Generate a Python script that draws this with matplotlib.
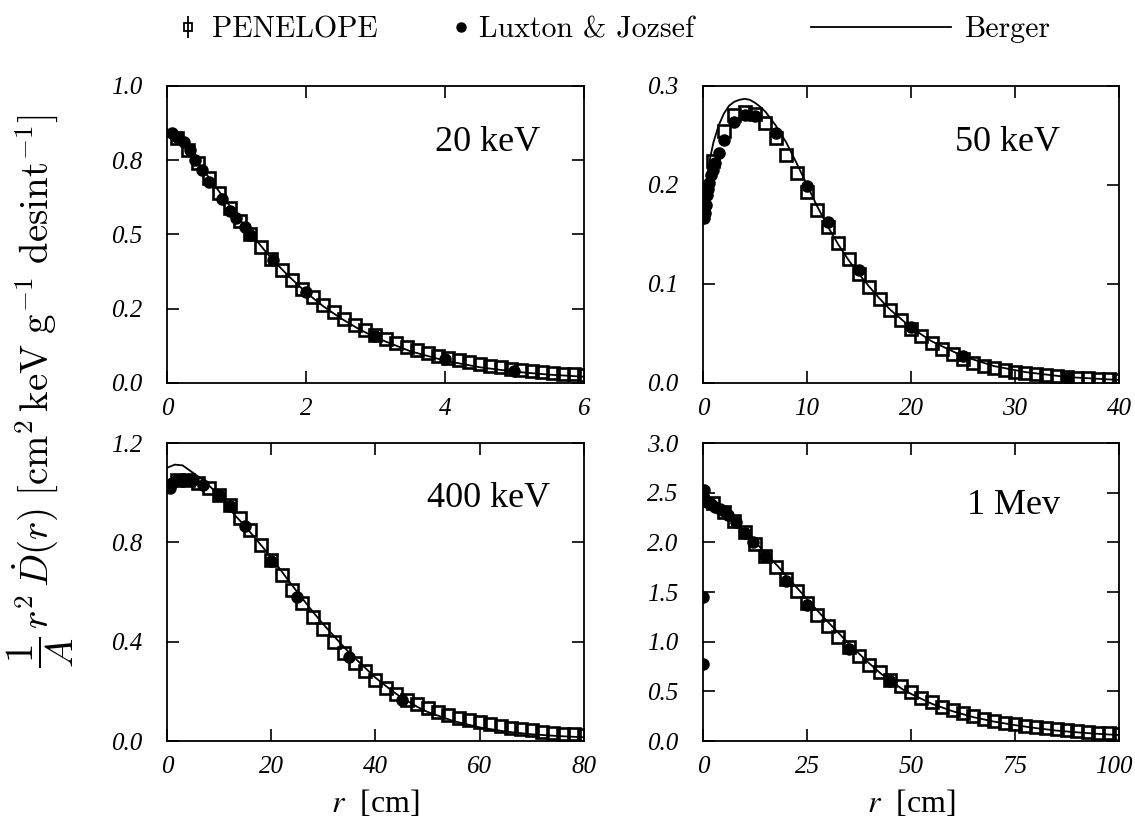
import numpy as np
import matplotlib
matplotlib.use('Agg')
import matplotlib.pyplot as plt
from matplotlib.lines import Line2D
from matplotlib.transforms import ScaledTranslation

plt.rcParams['font.family'] = ['Liberation Serif', 'DejaVu Serif']
plt.rcParams['mathtext.fontset'] = 'cm'

# energies shown in the four panels
energies = ['20 keV', '50 keV', '400 keV', '1 Mev']

# PENELOPE histograms: 40 bins per panel, value at each bin edge (step in cm)
pen_step = [0.15, 1.0, 2.0, 2.5]
pen_20 = [0.825, 0.785, 0.74, 0.69, 0.64, 0.59, 0.545, 0.50, 0.458, 0.418,
          0.38, 0.347, 0.316, 0.288, 0.262, 0.238, 0.216, 0.196, 0.178, 0.162,
          0.147, 0.134, 0.122, 0.111, 0.101, 0.092, 0.084, 0.077, 0.070, 0.064,
          0.058, 0.053, 0.048, 0.044, 0.040, 0.037, 0.034, 0.031, 0.029, 0.027]
pen_50 = [0.224, 0.255, 0.271, 0.274, 0.272, 0.263, 0.247, 0.230, 0.212, 0.193,
          0.175, 0.158, 0.141, 0.125, 0.110, 0.097, 0.085, 0.074, 0.064, 0.055,
          0.047, 0.040, 0.034, 0.029, 0.024, 0.020, 0.017, 0.015, 0.013, 0.0115,
          0.010, 0.009, 0.008, 0.007, 0.006, 0.0055, 0.005, 0.0045, 0.004, 0.0035]
pen_400 = [1.05, 1.05, 1.04, 1.02, 0.99, 0.95, 0.90, 0.85, 0.79, 0.73,
           0.67, 0.61, 0.555, 0.50, 0.45, 0.40, 0.355, 0.315, 0.28, 0.245,
           0.215, 0.19, 0.167, 0.148, 0.131, 0.116, 0.103, 0.092, 0.083, 0.075,
           0.067, 0.060, 0.054, 0.048, 0.043, 0.038, 0.034, 0.030, 0.027, 0.024]
pen_1000 = [2.40, 2.31, 2.21, 2.10, 1.98, 1.86, 1.75, 1.63, 1.51, 1.39,
            1.27, 1.16, 1.05, 0.95, 0.86, 0.77, 0.69, 0.615, 0.55, 0.49,
            0.435, 0.39, 0.345, 0.31, 0.28, 0.25, 0.225, 0.205, 0.185, 0.17,
            0.155, 0.14, 0.128, 0.117, 0.107, 0.098, 0.09, 0.083, 0.077, 0.071]

# Luxton & Jozsef
lux_r_20 = [0.07, 0.14, 0.24, 0.33, 0.40, 0.50, 0.61, 0.79, 0.91, 1.0, 1.12, 1.2,
            1.53, 2.0, 3.0, 4.0, 5.0]
lux_20 = [0.842, 0.829, 0.812, 0.785, 0.75, 0.717, 0.677, 0.621, 0.58, 0.554,
          0.526, 0.498, 0.414, 0.307, 0.158, 0.08, 0.039]
lux_r_50 = [0.1, 0.2, 0.3, 0.4, 0.5, 0.6, 0.8, 1.0, 1.2, 1.5, 2.0, 3.0, 4.0, 5.0,
            7.0, 10, 12, 15, 20, 25, 35]
lux_50 = [0.167, 0.172, 0.180, 0.190, 0.196, 0.202, 0.210, 0.215, 0.222, 0.232,
          0.245, 0.264, 0.271, 0.270, 0.252, 0.199, 0.163, 0.114, 0.057, 0.027,
          0.005]
lux_r_400 = [0.5, 1, 2, 3, 4, 5, 7, 10, 12, 15, 20, 25, 35, 45]
lux_400 = [1.02, 1.04, 1.05, 1.05, 1.05, 1.05, 1.03, 0.99, 0.945, 0.865, 0.725,
           0.58, 0.34, 0.165]
lux_r_1000 = [0.05, 0.05, 0.15, 0.3, 0.6, 1.0, 1.5, 2, 3, 4, 5, 6, 8, 10, 12, 15,
              20, 25, 35, 45]
lux_1000 = [0.78, 1.45, 2.53, 2.45, 2.42, 2.41, 2.40, 2.39, 2.36, 2.34, 2.32,
            2.28, 2.20, 2.09, 2.0, 1.86, 1.61, 1.37, 0.93, 0.60]

# Berger curves
ber_r_20 = [0, 0.25, 0.5, 0.75, 1.0, 1.25, 1.5, 1.75, 2.0, 2.25, 2.5, 2.75, 3.0,
            3.5, 4.0, 4.5, 5.0, 5.5, 6.0]
ber_20 = [0.855, 0.80, 0.725, 0.645, 0.565, 0.49, 0.42, 0.36, 0.305, 0.258,
          0.218, 0.183, 0.153, 0.107, 0.075, 0.053, 0.038, 0.028, 0.021]
ber_r_50 = [0.1, 0.35, 0.7, 1.0, 1.5, 2.0, 2.5, 3.0, 3.5, 4.0, 4.5, 5.0, 5.5, 6.0,
            7.0, 8.0, 9.0, 10, 11, 12, 13, 14, 15, 16, 17, 18, 20, 22, 25, 28,
            31, 35, 40]
ber_50 = [0.18, 0.205, 0.228, 0.243, 0.26, 0.272, 0.28, 0.284, 0.286, 0.287,
          0.286, 0.283, 0.279, 0.274, 0.26, 0.243, 0.222, 0.200, 0.178, 0.158,
          0.140, 0.124, 0.110, 0.097, 0.085, 0.074, 0.056, 0.042, 0.027, 0.017,
          0.011, 0.006, 0.003]
ber_r_400 = [0, 1.5, 3, 5, 7, 9, 11, 13, 15, 17, 20, 23, 25, 28, 30, 33, 35, 38,
             40, 43, 45, 48, 50, 55, 60, 65, 70, 75, 80]
ber_400 = [1.10, 1.113, 1.11, 1.08, 1.05, 1.01, 0.96, 0.91, 0.865, 0.815, 0.74,
           0.655, 0.60, 0.52, 0.47, 0.40, 0.355, 0.295, 0.255, 0.205, 0.175,
           0.138, 0.117, 0.080, 0.055, 0.038, 0.027, 0.020, 0.015]
ber_r_1000 = [0, 2, 4, 6, 8, 10, 12, 15, 18, 20, 22, 25, 28, 30, 33, 35, 38, 40,
              43, 45, 48, 50, 55, 60, 65, 70, 75, 80, 85, 90, 95, 100]
ber_1000 = [2.46, 2.40, 2.34, 2.27, 2.19, 2.11, 2.03, 1.89, 1.76, 1.66, 1.57,
            1.43, 1.29, 1.20, 1.07, 0.98, 0.86, 0.78, 0.67, 0.61, 0.52, 0.475,
            0.375, 0.30, 0.24, 0.195, 0.16, 0.13, 0.105, 0.087, 0.072, 0.06]

# axes ranges and ticks
x_max = [6, 40, 80, 100]
x_ticks = [[0, 2, 4, 6], [0, 10, 20, 30, 40], [0, 20, 40, 60, 80],
           [0, 25, 50, 75, 100]]
y_max = [1.0, 0.3, 1.2, 3.0]
y_ticks = [[0, 0.25, 0.5, 0.75, 1.0], [0, 0.1, 0.2, 0.3], [0, 0.4, 0.8, 1.2],
           [0, 0.5, 1.0, 1.5, 2.0, 2.5, 3.0]]
y_tick_labels = [['0.0', '0.2', '0.5', '0.8', '1.0'],
                 ['0.0', '0.1', '0.2', '0.3'],
                 ['0.0', '0.4', '0.8', '1.2'],
                 ['0.0', '0.5', '1.0', '1.5', '2.0', '2.5', '3.0']]

pen_all = [pen_20, pen_50, pen_400, pen_1000]
lux_all = [(lux_r_20, lux_20), (lux_r_50, lux_50), (lux_r_400, lux_400),
           (lux_r_1000, lux_1000)]
ber_all = [(ber_r_20, ber_20), (ber_r_50, ber_50), (ber_r_400, ber_400),
           (ber_r_1000, ber_1000)]

fig = plt.figure(figsize=(11.35, 8.25), dpi=100)
boxes = [[0.1471, 0.5358, 0.3674, 0.360], [0.6194, 0.5358, 0.3665, 0.360],
         [0.1471, 0.1018, 0.3674, 0.3612], [0.6194, 0.1018, 0.3665, 0.3612]]
label_pos = [(0.894, 0.808), (0.858, 0.808), (0.918, 0.815), (0.858, 0.79)]

for i, box in enumerate(boxes):
    ax = fig.add_axes(box)
    pv = np.array(pen_all[i])
    pr = pen_step[i] * np.arange(1, len(pv) + 1)
    ax.plot(pr, pv, ls='none', marker='s', ms=8.5, mfc='none', mec='black',
            mew=1.9, zorder=2)
    ax.plot(*lux_all[i], ls='none', marker='o', ms=8, color='black', zorder=3)
    ax.plot(*ber_all[i], color='black', lw=1.3, zorder=4)
    ax.set_xlim(0, x_max[i])
    ax.set_ylim(0, y_max[i])
    ax.set_xticks(x_ticks[i], [str(t) for t in x_ticks[i]], fontstyle='italic')
    ax.set_yticks(y_ticks[i], y_tick_labels[i], fontstyle='italic')
    ax.tick_params(direction='in', length=8.5, width=1.2, top=True, right=True,
                   labelsize=18)
    ax.tick_params(axis='y', pad=18)
    ax.tick_params(axis='x', pad=11)
    for s in ax.spines.values():
        s.set_linewidth(1.3)
    ax.text(*label_pos[i], energies[i], transform=ax.transAxes, ha='right',
            va='center', fontsize=26)
    if i >= 2:
        ax.set_xlabel('$r$  [cm]', fontsize=23, labelpad=7)
        ax.xaxis.label.set_math_fontfamily('stix')
    if i == 3:
        # keep the last tick label inside the figure
        last = ax.get_xticklabels()[-1]
        last.set_transform(last.get_transform() +
                           ScaledTranslation(-4 / 72, 0, fig.dpi_scale_trans))

fig.text(0.036, 0.526,
         r'$\dfrac{1}{A}\,r^2\,\dot{D}(r)\ [\mathrm{cm}^2\,\mathrm{keV}\ '
         r'\mathrm{g}^{-1}\ \mathrm{desint}^{-1}]$',
         rotation=90, ha='center', va='center', fontsize=28)

# legend, three separate pieces along the top
pen_handle = (Line2D([], [], ls='none', marker='s', ms=6, mfc='none', mec='black',
                     mew=1.3),
              Line2D([], [], ls='none', marker='|', ms=16, mew=1.3, color='black'))
lux_handle = Line2D([], [], ls='none', marker='o', ms=6.5, color='black')
ber_handle = Line2D([], [], color='black', lw=1.3)
common = dict(frameon=False, prop={'family': 'cmr10', 'size': 21.5}, borderpad=0,
              borderaxespad=0, loc='center left')
fig.legend([pen_handle], ['PENELOPE'], handlelength=0.8,
           handletextpad=0.4, bbox_to_anchor=(0.1555, 0.964), **common)
fig.legend([lux_handle], ['Luxton & Jozsef'], handlelength=0.6,
           handletextpad=0.3, bbox_to_anchor=(0.398, 0.964), **common)
fig.legend([ber_handle], ['Berger'], handlelength=4.7,
           handletextpad=0.45, bbox_to_anchor=(0.7145, 0.964), **common)

fig.savefig('out.png', dpi=100)
